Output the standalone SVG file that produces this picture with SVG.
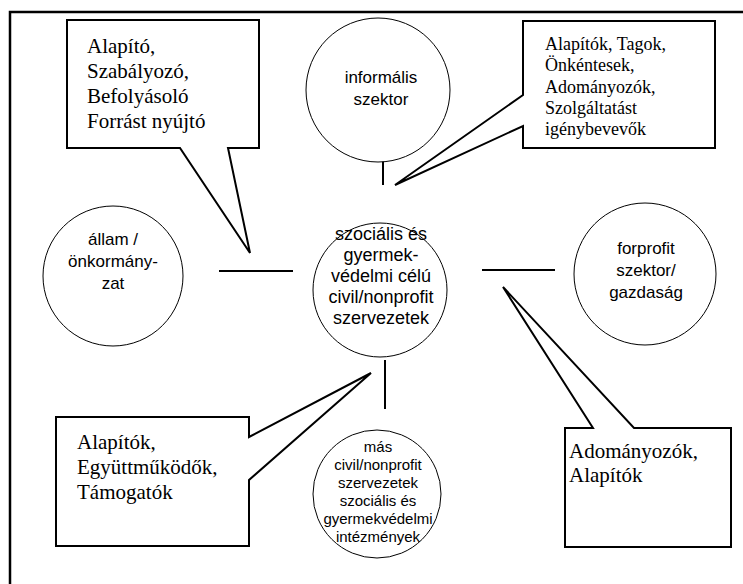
<svg xmlns="http://www.w3.org/2000/svg" width="743" height="584" viewBox="0 0 743 584">
<style>
.frame{fill:none;stroke:#000;stroke-width:2.5}
.callout{fill:#fff;stroke:#000;stroke-width:2;stroke-linejoin:miter}
.circ{fill:#fff;stroke:#000;stroke-width:1}
.conn{stroke:#000;stroke-width:2;fill:none}
.ser{font-family:"Liberation Serif","Times New Roman",serif;fill:#000}
.sans{font-family:"Liberation Sans",Arial,sans-serif;fill:#000;text-anchor:middle}
</style>
<rect width="743" height="584" fill="#fff"/>
<path class="frame" d="M10,600 V12 H760"/>
<g id="connectors">
<line class="conn" x1="219" y1="271" x2="293" y2="271"/>
<line class="conn" x1="482" y1="270" x2="555" y2="270"/>
<line class="conn" x1="383" y1="138" x2="383" y2="185"/>
<line class="conn" x1="385" y1="360" x2="385" y2="409"/>
</g>
<g id="node-informalis">
<circle class="circ" cx="378" cy="90" r="72"/>
<text class="sans" font-size="17"><tspan x="381" y="83">informális</tspan><tspan x="381" y="105">szektor</tspan></text>
</g>
<g id="node-allam">
<circle class="circ" cx="113" cy="276" r="70"/>
<text class="sans" font-size="17"><tspan x="113" y="245">állam /</tspan><tspan x="113" y="267">önkormány-</tspan><tspan x="113" y="289">zat</tspan></text>
</g>
<g id="node-center">
<circle class="circ" cx="380" cy="290" r="67"/>
<text class="sans" font-size="18"><tspan x="381" y="240">szociális és</tspan><tspan x="381" y="261">gyermek-</tspan><tspan x="381" y="282">védelmi célú</tspan><tspan x="381" y="303">civil/nonprofit</tspan><tspan x="381" y="324">szervezetek</tspan></text>
</g>
<g id="node-forprofit">
<circle class="circ" cx="645" cy="274" r="71"/>
<text class="sans" font-size="17"><tspan x="646" y="254">forprofit</tspan><tspan x="646" y="276">szektor/</tspan><tspan x="646" y="298">gazdaság</tspan></text>
</g>
<g id="node-mas">
<circle class="circ" cx="377" cy="494" r="64"/>
<text class="sans" font-size="15"><tspan x="378" y="452">más</tspan><tspan x="378" y="470">civil/nonprofit</tspan><tspan x="378" y="488">szervezetek</tspan><tspan x="378" y="506">szociális és</tspan><tspan x="378" y="524">gyermekvédelmi</tspan><tspan x="378" y="542">intézmények</tspan></text>
</g>
<g id="callout-allam">
<path class="callout" d="M67,20 H259 V148 H228 L250,253 L180,148 H67 Z"/>
<text class="ser" font-size="21"><tspan x="87" y="53">Alapító,</tspan><tspan x="87" y="78">Szabályozó,</tspan><tspan x="87" y="103">Befolyásoló</tspan><tspan x="87" y="128">Forrást nyújtó</tspan></text>
</g>
<g id="callout-informalis">
<path class="callout" d="M523,21 H715 V148 H523 V126 L395,185 L523,95 Z"/>
<text class="ser" font-size="18"><tspan x="545" y="50">Alapítók, Tagok,</tspan><tspan x="545" y="71">Önkéntesek,</tspan><tspan x="545" y="93">Adományozók,</tspan><tspan x="545" y="114">Szolgáltatást</tspan><tspan x="545" y="135">igénybevevők</tspan></text>
</g>
<g id="callout-mas">
<path class="callout" d="M56,417 H249 V437 L371,373 L249,480 V546 H56 Z"/>
<text class="ser" font-size="21"><tspan x="77" y="449">Alapítók,</tspan><tspan x="77" y="474">Együttműködők,</tspan><tspan x="77" y="499">Támogatók</tspan></text>
</g>
<g id="callout-forprofit">
<path class="callout" d="M565,428 H593 L503,287 L634,428 H731 V547 H565 Z"/>
<text class="ser" font-size="21"><tspan x="569" y="458">Adományozók,</tspan><tspan x="569" y="482">Alapítók</tspan></text>
</g>
</svg>
